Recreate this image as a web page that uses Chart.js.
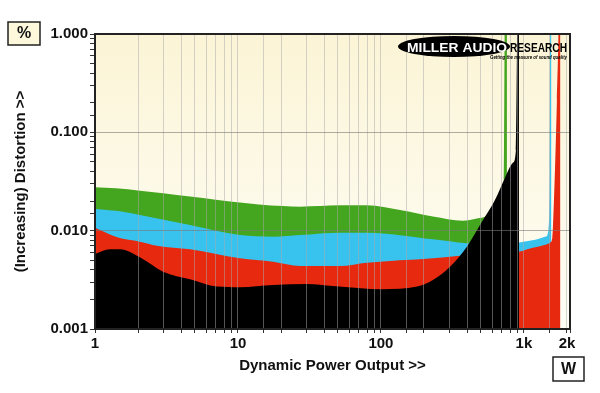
<!DOCTYPE html>
<html>
<head>
<meta charset="utf-8">
<script src="https://cdn.jsdelivr.net/npm/chart.js@4"></script>
<style>
  body { margin: 0; background: #fff; }
  canvas { display: block; }
</style>
</head>
<body>
<canvas id="chart" width="600" height="393"></canvas>
<script>
// power (W) and distortion (%)
var greenPower = [1, 1.4, 2.06, 3, 4.62, 7, 10.3, 14, 20.6, 27.2, 51.7, 79.8, 136, 231, 374, 469, 551, 627, 702, 724, 738, 760];
var greenDist  = [0.0276, 0.027, 0.0255, 0.024, 0.0222, 0.0206, 0.0193, 0.0185, 0.0178, 0.01755, 0.0181, 0.0181, 0.0162, 0.0139, 0.0126, 0.0133, 0.0142, 0.017, 0.025, 0.033, 5, 5];

var cyanPower = [1, 1.57, 2.06, 4.62, 10.3, 17.6, 27.2, 51.7, 79.8, 231, 399, 600, 908, 1200, 1426, 1490, 1515, 1530, 1557];
var cyanDist  = [0.0166, 0.0156, 0.01445, 0.01143, 0.00904, 0.00869, 0.00904, 0.00955, 0.00955, 0.00817, 0.00744, 0.0072, 0.00755, 0.0081, 0.0087, 0.0105, 0.04, 5, 5];

var redPower = [1, 1.43, 2.06, 2.71, 4.62, 10.3, 17.6, 27.2, 51.7, 79.8, 231, 340, 600, 908, 1200, 1520, 1580, 1621, 1701, 1743, 1765, 1800];
var redDist  = [0.0107, 0.00857, 0.00773, 0.00704, 0.00647, 0.00524, 0.00484, 0.00437, 0.00437, 0.00472, 0.00524, 0.00553, 0.0058, 0.0061, 0.0068, 0.0075, 0.0085, 0.02, 0.21, 1.0, 5, 5];

var blackPower = [1, 1.27, 1.5, 2.06, 2.99, 4.62, 7.13, 10.3, 17.6, 30.4, 46.1, 103, 179, 231, 304, 399, 517, 627, 736, 838, 879, 908, 923];
var blackDist  = [0.0058, 0.00647, 0.00647, 0.00536, 0.00383, 0.0032, 0.0027, 0.00266, 0.0028, 0.00287, 0.00274, 0.00254, 0.0027, 0.00315, 0.0043, 0.00687, 0.0128, 0.0205, 0.0344, 0.049, 0.066, 5, 5];

var xLabelValues = [1, 10, 100, 1000, 2000];
var xLabelText   = ['1', '10', '100', '1k', '2k'];
var yLabelValues = [0.001, 0.01, 0.1, 1];
var yLabelText   = ['0.001', '0.010', '0.100', '1.000'];

function pairs(xs, ys) {
    return xs.map(function(x, i) { return {x: x, y: ys[i]}; });
}

function findLabel(values, texts, v) {
    for (var i = 0; i < values.length; i++) {
        if (Math.abs(v - values[i]) / values[i] < 1e-6) return texts[i];
    }
    return '';
}

function isDecade(v) {
    var l = Math.log10(v);
    return Math.abs(l - Math.round(l)) < 1e-6;
}

function area(label, xs, ys, colour, order) {
    return {
        label: label,
        data: pairs(xs, ys),
        backgroundColor: colour,
        borderColor: 'rgba(0,0,0,0)',
        borderWidth: 0,
        pointRadius: 0,
        fill: 'start',
        cubicInterpolationMode: 'monotone',
        order: order
    };
}

Chart.defaults.font.family = '"Liberation Sans", Arial, sans-serif';
Chart.defaults.color = '#111';

var decor = {
    id: 'decor',
    beforeDatasetsDraw: function(chart) {
        var a = chart.chartArea, ctx = chart.ctx;
        var g = ctx.createLinearGradient(0, a.top, 0, a.bottom);
        g.addColorStop(0, '#fbf4d6');
        g.addColorStop(1, '#fffef7');
        ctx.save();
        ctx.fillStyle = g;
        ctx.fillRect(a.left, a.top, a.right - a.left, a.bottom - a.top);
        ctx.restore();
    },
    afterDraw: function(chart) {
        var a = chart.chartArea, ctx = chart.ctx;
        ctx.save();
        ctx.strokeStyle = '#222';
        ctx.lineWidth = 2;
        ctx.strokeRect(a.left, a.top, a.right - a.left, a.bottom - a.top);

        // unit boxes
        ctx.lineWidth = 1.5;
        ctx.fillStyle = '#fdf7dc';
        ctx.fillRect(8, 22, 32, 23);
        ctx.strokeRect(8, 22, 32, 23);
        ctx.fillStyle = '#fff';
        ctx.fillRect(553, 357, 31, 24);
        ctx.strokeRect(553, 357, 31, 24);
        ctx.fillStyle = '#111';
        ctx.font = 'bold 16px "Liberation Sans", Arial, sans-serif';
        ctx.textAlign = 'center';
        ctx.textBaseline = 'middle';
        ctx.fillText('%', 24, 34);
        ctx.fillText('W', 568.5, 370);

        // logo
        ctx.fillStyle = '#000';
        ctx.beginPath();
        ctx.ellipse(454, 46.5, 56, 10.5, 0, 0, Math.PI * 2);
        ctx.fill();
        ctx.textAlign = 'left';
        ctx.textBaseline = 'alphabetic';
        stretch(ctx, 'MILLER AUDIO', 'bold 12px "Liberation Sans", Arial', '#fff', 407, 52, 100);
        stretch(ctx, 'RESEARCH', 'bold 12px "Liberation Sans", Arial', '#000', 510, 52, 57);
        stretch(ctx, 'Getting the measure of sound quality', 'italic bold 6px "Liberation Sans", Arial', '#000', 490, 58.5, 77);
        ctx.restore();
    }
};

function stretch(ctx, text, font, colour, x, y, w) {
    ctx.save();
    ctx.font = font;
    ctx.fillStyle = colour;
    var m = ctx.measureText(text).width;
    ctx.translate(x, y);
    ctx.scale(w / m, 1);
    ctx.fillText(text, 0, 0);
    ctx.restore();
}

var config = {
    type: 'line',
    data: {
        datasets: [
            area('Green', greenPower, greenDist, '#44a51f', 3),
            area('Cyan', cyanPower, cyanDist, '#38c3ef', 2),
            area('Red', redPower, redDist, '#e6290f', 1),
            area('Black', blackPower, blackDist, '#000000', 0)
        ]
    },
    options: {
        responsive: false,
        animation: false,
        devicePixelRatio: 1,
        layout: {
            padding: {left: 12, right: 30, top: 34, bottom: 18}
        },
        plugins: {
            legend: {display: false},
            tooltip: {enabled: false}
        },
        scales: {
            x: {
                type: 'logarithmic',
                min: 1,
                max: 2100,
                afterFit: function(scale) { scale.height = 46; },
                grid: {
                    z: 1,
                    color: 'rgba(170,170,170,0.5)',
                    tickColor: '#333',
                    tickLength: 4
                },
                border: {display: false},
                ticks: {
                    autoSkip: false,
                    maxRotation: 0,
                    padding: 2,
                    font: {size: 15, weight: 'bold'},
                    callback: function(v) { return findLabel(xLabelValues, xLabelText, v); }
                },
                title: {
                    display: true,
                    text: 'Dynamic Power Output >>',
                    padding: 0,
                    font: {size: 15, weight: 'bold'}
                }
            },
            y: {
                type: 'logarithmic',
                min: 0.001,
                max: 1,
                afterFit: function(scale) { scale.width = 83; },
                grid: {
                    z: 1,
                    color: function(ctx) {
                        return ctx.tick && isDecade(ctx.tick.value) ? 'rgba(120,120,120,0.6)' : 'rgba(0,0,0,0)';
                    },
                    tickColor: '#333',
                    tickLength: 5
                },
                border: {display: false},
                ticks: {
                    autoSkip: false,
                    padding: 2,
                    font: {size: 15, weight: 'bold'},
                    callback: function(v) { return findLabel(yLabelValues, yLabelText, v); }
                },
                title: {
                    display: true,
                    text: '(Increasing) Distortion >>',
                    padding: 0,
                    font: {size: 15, weight: 'bold'}
                }
            }
        }
    },
    plugins: [decor]
};

window.myChart = new Chart(document.getElementById('chart'), config);
</script>
</body>
</html>
